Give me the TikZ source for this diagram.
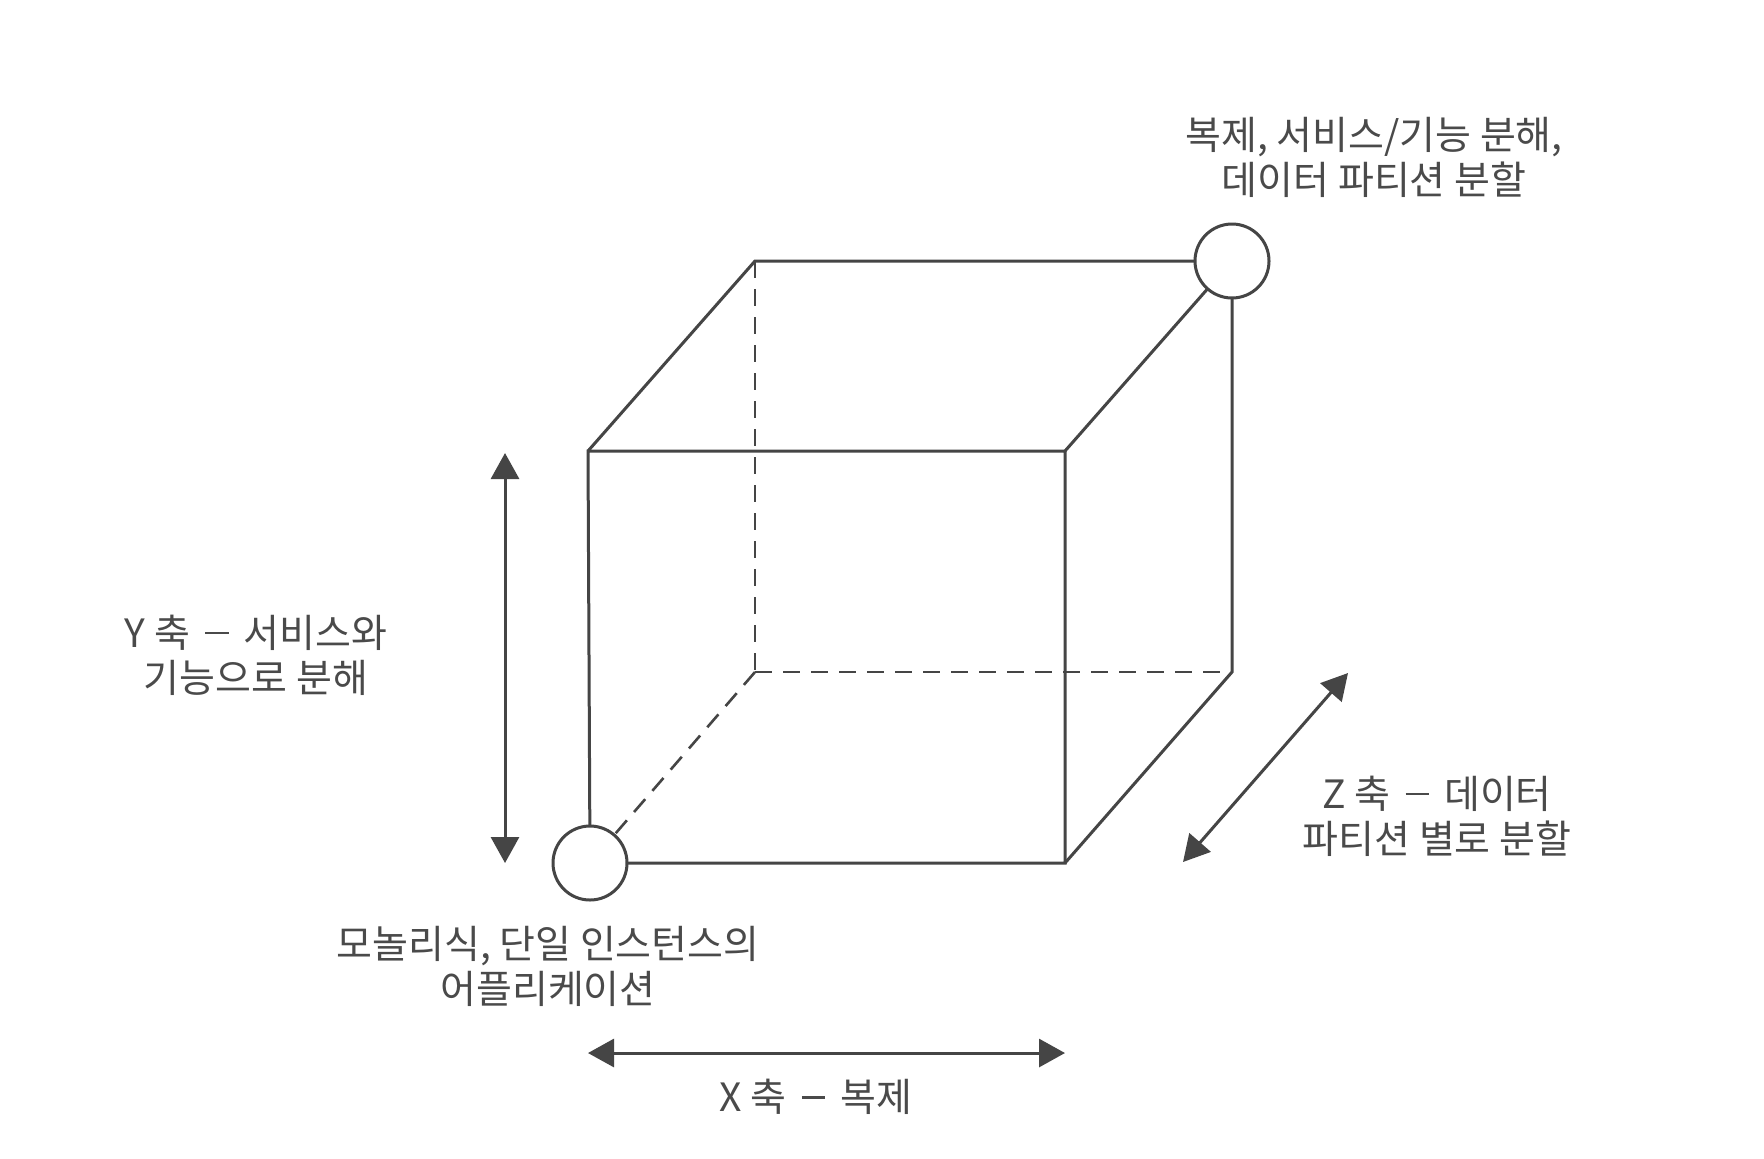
\documentclass[tikz,border=0pt]{standalone}
\usepackage{fontspec}
\setmainfont{Noto Sans CJK KR}
\usetikzlibrary{arrows.meta}
\definecolor{ink}{HTML}{454545}
\definecolor{txt}{HTML}{4a4a4a}
\newcommand\axdash{\,\raisebox{0.33em}{\rule{0.6em}{0.065em}}\,}
\begin{document}
\begin{tikzpicture}[x=0.5pt,y=-0.5pt,
  edge/.style={draw=ink,line width=1.5pt},
  hidden/.style={draw=ink,line width=1.3pt,dash pattern=on 8.5pt off 5.5pt},
  corner/.style={circle,draw=ink,fill=white,line width=1.5pt,minimum size=37pt,inner sep=0pt},
  axis/.style={draw=ink,line width=1.5pt,{Triangle[length=13pt,width=14pt]}-{Triangle[length=13pt,width=14pt]}},
  lbl/.style={text=txt,align=center,font=\fontsize{19.5}{22.5}\selectfont,inner sep=0pt}]
\useasboundingbox[fill=white] (0,0) rectangle (1764,1158);
% cube corners
\coordinate (FTL) at (588,451);
\coordinate (FTR) at (1065,451);
\coordinate (FBL) at (590,863);
\coordinate (FBR) at (1065,863);
\coordinate (BTL) at (755,261);
\coordinate (BTR) at (1232,261);
\coordinate (BBL) at (755,672);
\coordinate (BBR) at (1232,672);
% hidden edges
\draw[hidden] (BTL) -- (BBL);
\draw[hidden] (BBL) -- (BBR);
\draw[hidden] (BBL) -- (FBL);
% visible edges
\draw[edge] (FTL) -- (FTR) -- (FBR) -- (FBL) -- cycle;
\draw[edge] (FTL) -- (BTL) -- (BTR) -- (BBR) -- (FBR);
\draw[edge] (FTR) -- (BTR);
% corner circles
\node[corner] (mono) at (FBL) {};
\node[corner] (full) at (BTR) {};
% axes
\coordinate (Yt) at (505,453);
\coordinate (Yb) at (505,863);
\draw[axis] (Yt) -- (Yb);
\coordinate (Xl) at (588,1053);
\coordinate (Xr) at (1065,1053);
\draw[axis] (Xl) -- (Xr);
\coordinate (Zb) at (1183,862);
\coordinate (Zt) at (1348,673);
\draw[axis] (Zb) -- (Zt);
% labels
\node[lbl] (lfull) at (1374,157) {복제, 서비스/기능 분해,\\데이터 파티션 분할};
\node[lbl] (ly) at (256,655) {Y 축 \axdash{} 서비스와\\기능으로 분해};
\node[lbl] (lmono) at (548,966) {모놀리식, 단일 인스턴스의\\어플리케이션};
\node[lbl] (lz) at (1437,816) {Z 축 \axdash{} 데이터\\파티션 별로 분할};
\node[lbl] (lx) at (816,1097) {X 축 \axdash{} 복제};
\end{tikzpicture}
\end{document}
